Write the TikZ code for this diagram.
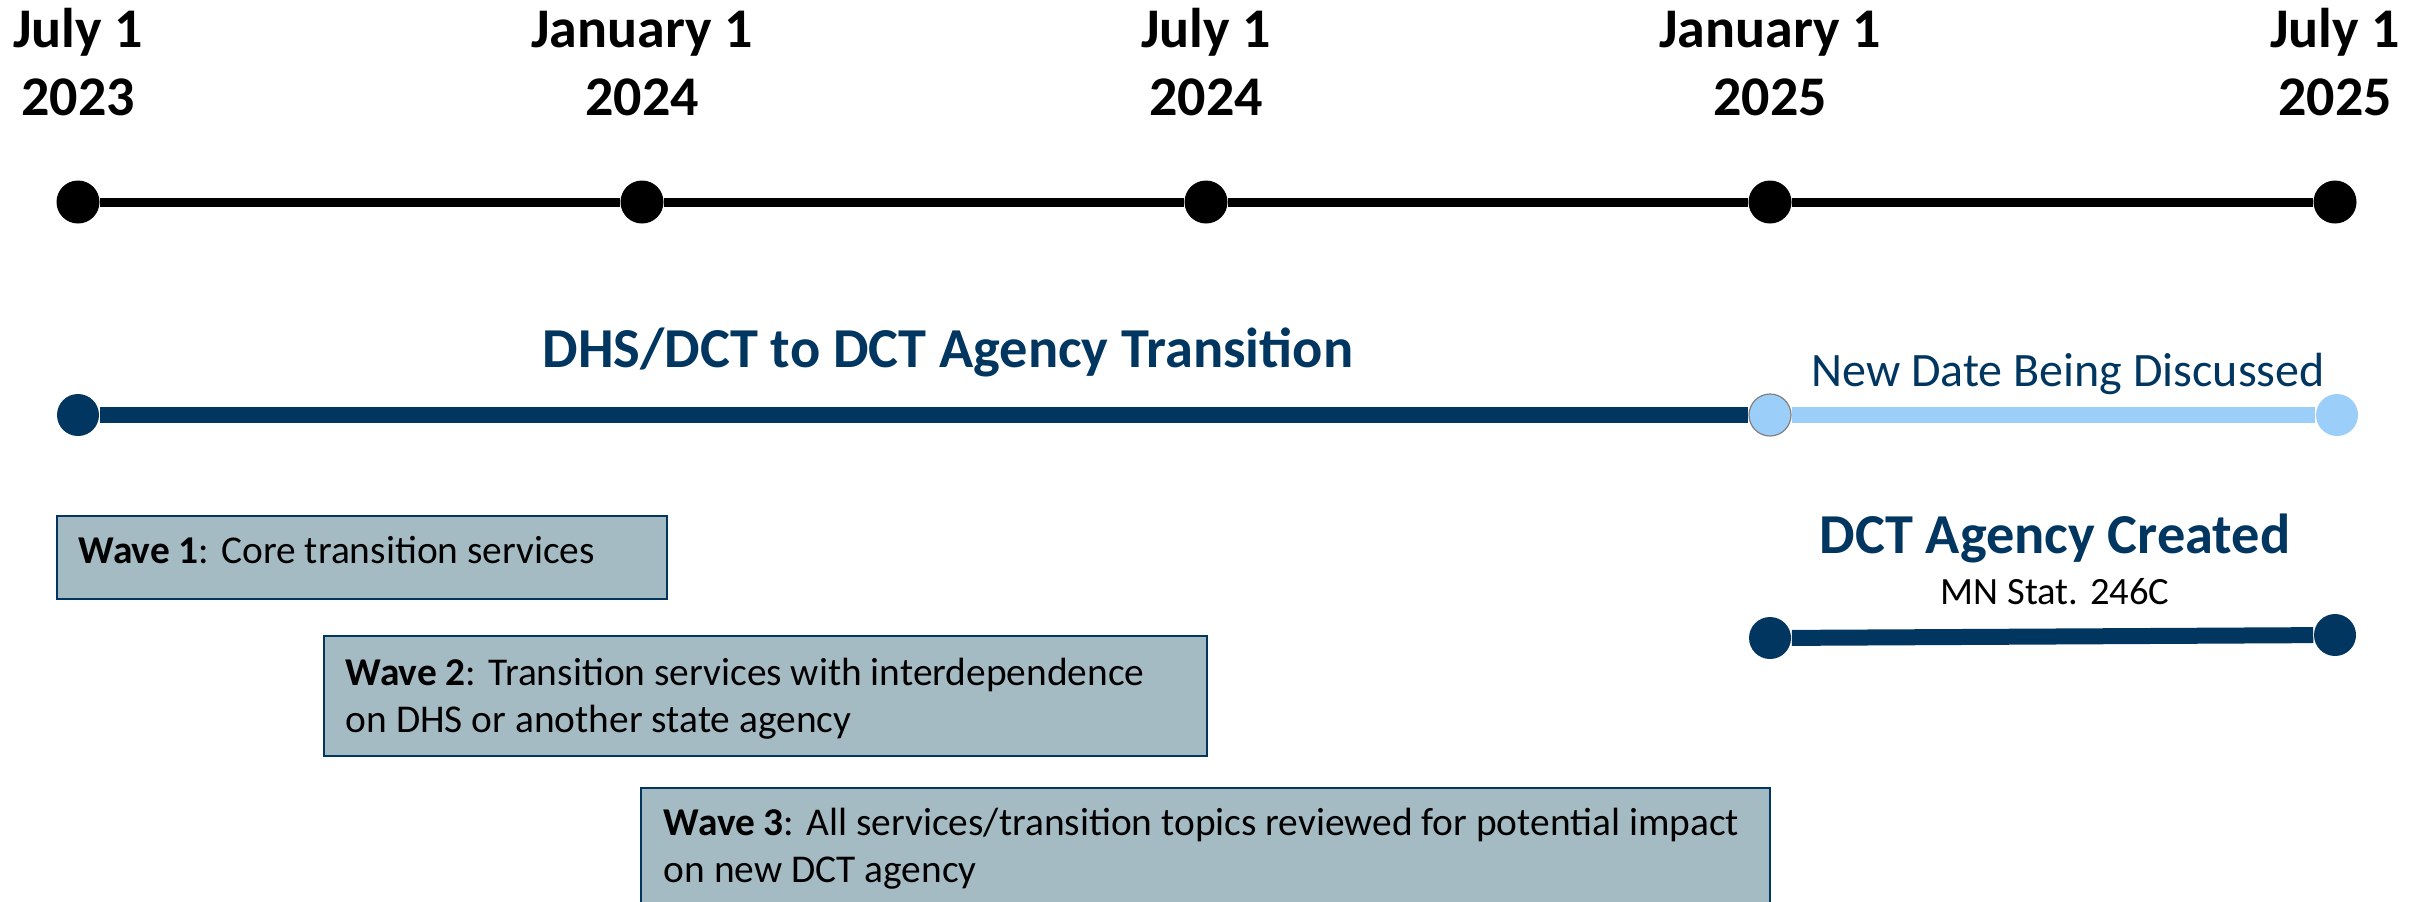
\documentclass[tikz,border=0pt]{standalone}
\usepackage{fontspec}
\setmainfont{Carlito}
\definecolor{navy}{RGB}{0,54,96}
\definecolor{lightblue}{RGB}{156,206,250}
\definecolor{boxfill}{RGB}{165,187,195}
\begin{document}
\begin{tikzpicture}[x=0.25pt,y=-0.25pt,
  datelbl/.style={font=\fontsize{14}{16}\selectfont\bfseries, text=black, inner sep=0pt, anchor=base},
  bdot/.style={circle, fill=black, inner sep=0pt, minimum size=10.75pt},
  ndot/.style={circle, fill=navy, inner sep=0pt, minimum size=10.5pt},
  ldot/.style={circle, fill=lightblue, inner sep=0pt, minimum size=10.5pt},
  tline/.style={line width=2.25pt, black},
  nline/.style={line width=4pt, navy},
  lline/.style={line width=4pt, lightblue},
  title/.style={font=\fontsize{14.1}{16}\selectfont\bfseries, text=navy, inner sep=0pt, anchor=base},
  wavebox/.style={fill=boxfill, draw=navy, line width=0.5pt},
  wavetext/.style={font=\fontsize{9.85}{12}\selectfont, text=black, inner sep=0pt, anchor=base west}
]
\clip (0,0) rectangle (2428,901);
\fill[white] (0,0) rectangle (2428,901);

% date labels
\node[datelbl] (l1a) at (78,47) {July 1};
\node[datelbl] (l1b) at (78,115) {2023};
\node[datelbl] (l2a) at (642,47) {January 1};
\node[datelbl] (l2b) at (642,115) {2024};
\node[datelbl] (l3a) at (1206,47) {July 1};
\node[datelbl] (l3b) at (1206,115) {2024};
\node[datelbl] (l4a) at (1770,47) {January 1};
\node[datelbl] (l4b) at (1770,115) {2025};
\node[datelbl] (l5a) at (2335,47) {July 1};
\node[datelbl] (l5b) at (2335,115) {2025};

% timeline
\node[bdot] (t1) at (78,202) {};
\node[bdot] (t2) at (642,202) {};
\node[bdot] (t3) at (1206,202) {};
\node[bdot] (t4) at (1770,202) {};
\node[bdot] (t5) at (2335,202) {};
\draw[tline] (t1) -- (t2);
\draw[tline] (t2) -- (t3);
\draw[tline] (t3) -- (t4);
\draw[tline] (t4) -- (t5);

% transition line
\node[title] (ttl) at (948,367) {DHS/DCT to DCT Agency Transition};
\node[ndot] (a1) at (78,415) {};
\node[ldot, draw=gray, line width=0.3pt] (a2) at (1770,415) {};
\node[ldot] (a3) at (2337,415) {};
\draw[nline] (a1) -- (a2);
\draw[lline] (a2) -- (a3);
\node[font=\fontsize{12}{14}\selectfont, text=navy, inner sep=0pt, anchor=base] (nd) at (2068,386) {New Date Being Discussed};

% agency created
\node[title] (dct) at (2055,553) {DCT Agency Created};
\node[font=\fontsize{9.65}{11}\selectfont, text=black, inner sep=0pt, anchor=base] (mn) at (2055,604) {MN Stat. 246C};
\node[ndot] (c1) at (1770,638) {};
\node[ndot] (c2) at (2335,635) {};
\draw[nline] (c1) -- (c2);

% waves
\draw[wavebox] (57,516) rectangle (667,599);
\node[wavetext] (w1) at (78,563) {\textbf{Wave 1}: Core transition services};

\draw[wavebox] (324,636) rectangle (1207,756);
\node[wavetext] (w2a) at (345,685) {\textbf{Wave 2}: Transition services with interdependence};
\node[wavetext] (w2b) at (345,732) {on DHS or another state agency};

\draw[wavebox] (641,788) rectangle (1770,960);
\node[wavetext] (w3a) at (663,835) {\textbf{Wave 3}: All services/transition topics reviewed for potential impact};
\node[wavetext] (w3b) at (663,882) {on new DCT agency};
\end{tikzpicture}
\end{document}
